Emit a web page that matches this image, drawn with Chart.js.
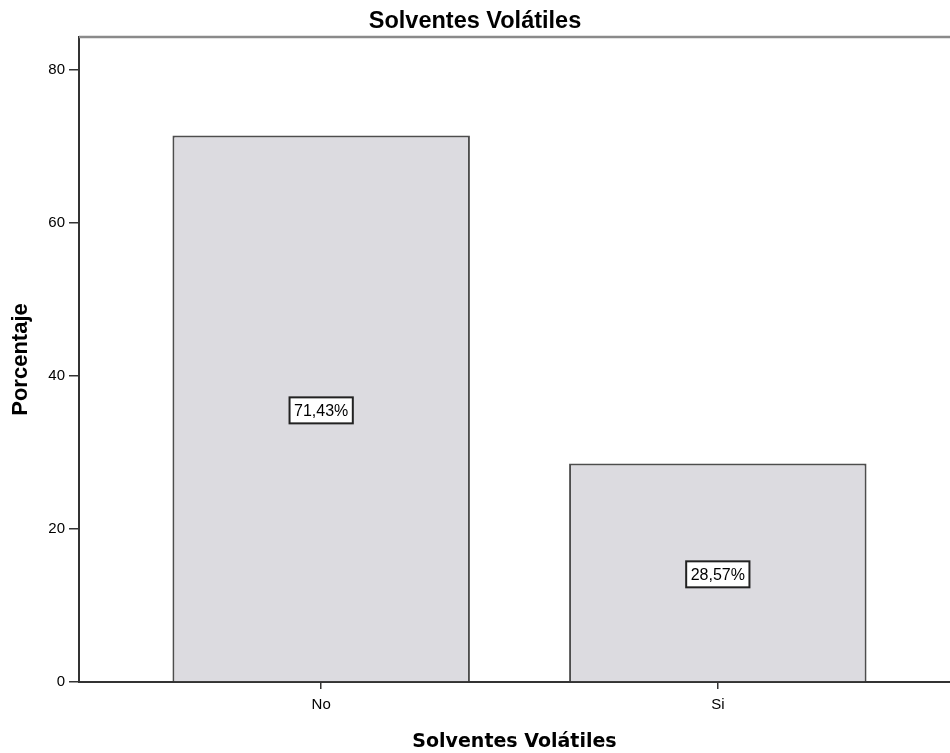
<!DOCTYPE html>
<html>
<head>
<meta charset="utf-8">
<script src="https://cdn.jsdelivr.net/npm/chart.js@4/dist/chart.umd.min.js"></script>
<style>
  html, body { margin: 0; padding: 0; background: #fff; overflow: hidden; }
  #c { display: block; }
</style>
</head>
<body>
<canvas id="c" width="950" height="753"></canvas>
<script>
const categories = ['No', 'Si'];
const percentages = [71.43, 28.57];
const yTicks = [0, 20, 40, 60, 80];
const chartTitle = 'Solventes Volátiles';
const xTitle = 'Solventes Volátiles';
const yTitle = 'Porcentaje';

const fmt = v => v.toFixed(2).replace('.', ',') + '%';

const frame = {
  id: 'frame',
  afterDraw(chart) {
    const { ctx, chartArea } = chart;
    ctx.save();
    ctx.strokeStyle = '#8a8a8a';
    ctx.lineWidth = 2.5;
    ctx.beginPath();
    ctx.moveTo(chartArea.left, chartArea.top);
    ctx.lineTo(chartArea.right, chartArea.top);
    ctx.stroke();
    ctx.restore();
  }
};

const boxLabels = {
  id: 'boxLabels',
  afterDatasetsDraw(chart) {
    const { ctx } = chart;
    const meta = chart.getDatasetMeta(0);
    ctx.save();
    ctx.font = '16px "Liberation Sans", Arial, sans-serif';
    ctx.textAlign = 'center';
    ctx.textBaseline = 'middle';
    meta.data.forEach((el, i) => {
      const txt = fmt(percentages[i]);
      const cx = el.x;
      const cy = (el.y + el.base) / 2 + 2;
      const w = ctx.measureText(txt).width + 9;
      const h = 26;
      ctx.fillStyle = '#ffffff';
      ctx.fillRect(cx - w / 2, cy - h / 2, w, h);
      ctx.strokeStyle = '#222';
      ctx.lineWidth = 2;
      ctx.strokeRect(cx - w / 2, cy - h / 2, w, h);
      ctx.fillStyle = '#000';
      ctx.fillText(txt, cx, cy + 1);
    });
    ctx.restore();
  }
};

new Chart(document.getElementById('c'), {
  type: 'bar',
  data: {
    datasets: [{
      data: percentages.map((v, i) => ({ x: i, y: v })),
      backgroundColor: '#dcdbe0',
      borderColor: '#4d4d4d',
      borderWidth: 2,
      barPercentage: 0.75,
      categoryPercentage: 1.0
    }]
  },
  options: {
    responsive: false,
    animation: false,
    layout: { padding: 0 },
    plugins: {
      legend: { display: false },
      tooltip: { enabled: false },
      title: {
        display: true,
        text: chartTitle,
        color: '#000',
        font: { family: '"Liberation Sans", Arial, sans-serif', size: 23.5, weight: 'bold', lineHeight: 1.2 },
        padding: { top: 7, bottom: 1.8 }
      }
    },
    scales: {
      x: {
        type: 'linear',
        offset: false,
        min: -0.6106,
        max: 1.5854,
        afterBuildTicks: s => { s.ticks = categories.map((_, i) => ({ value: i })); },
        afterFit: s => { s.height = 71; },
        ticks: {
          color: '#000',
          padding: 7,
          font: { family: '"Liberation Sans", Arial, sans-serif', size: 15 },
          callback: v => categories[v] ?? '',
          maxRotation: 0,
          autoSkip: false
        },
        grid: { offset: false, drawOnChartArea: false, tickLength: 7, color: '#333', lineWidth: 1.5 },
        border: { color: '#333', width: 2 },
        title: {
          display: true,
          text: xTitle,
          color: '#000',
          font: { family: '"DejaVu Sans", sans-serif', size: 19, weight: 'bold', lineHeight: 1.2 },
          padding: { top: 0, bottom: 0 }
        }
      },
      y: {
        min: 0,
        max: 84.3,
        afterBuildTicks: s => { s.ticks = yTicks.map(v => ({ value: v })); },
        afterFit: s => { s.width = 79; },
        ticks: {
          color: '#000',
          padding: 4,
          font: { family: '"Liberation Sans", Arial, sans-serif', size: 15 }
        },
        grid: { drawOnChartArea: false, tickLength: 10, color: '#333', lineWidth: 1.5 },
        border: { color: '#333', width: 2 },
        title: {
          display: true,
          text: yTitle,
          color: '#000',
          font: { family: '"Liberation Sans", Arial, sans-serif', size: 22, weight: 'bold', lineHeight: 1.2 },
          padding: { top: 8, bottom: 0 }
        }
      }
    }
  },
  plugins: [frame, boxLabels]
});
</script>
</body>
</html>
